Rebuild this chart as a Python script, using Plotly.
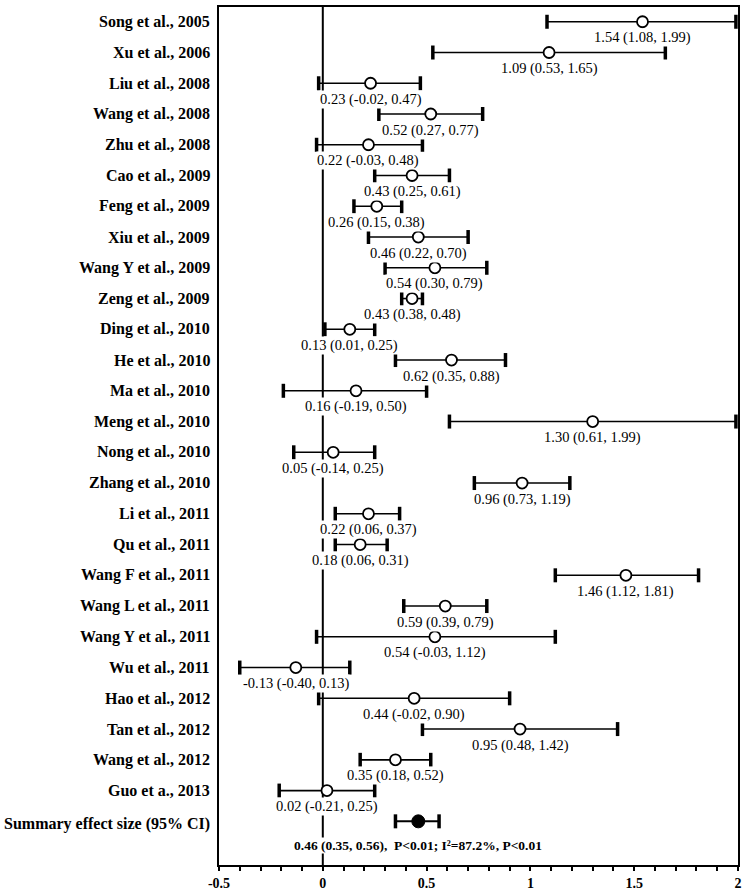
import plotly.graph_objects as go

# estudios, efecto y IC 95%
studies = ["Song et al., 2005", "Xu et al., 2006", "Liu et al., 2008", "Wang et al., 2008",
           "Zhu et al., 2008", "Cao et al., 2009", "Feng et al., 2009", "Xiu et al., 2009",
           "Wang Y et al., 2009", "Zeng et al., 2009", "Ding et al., 2010", "He et al., 2010",
           "Ma et al., 2010", "Meng et al., 2010", "Nong et al., 2010", "Zhang et al., 2010",
           "Li et al., 2011", "Qu et al., 2011", "Wang F et al., 2011", "Wang L et al., 2011",
           "Wang Y et al., 2011", "Wu et al., 2011", "Hao et al., 2012", "Tan et al., 2012",
           "Wang et al., 2012", "Guo et a., 2013"]
est = [1.54, 1.09, 0.23, 0.52, 0.22, 0.43, 0.26, 0.46, 0.54, 0.43, 0.13, 0.62, 0.16, 1.30,
       0.05, 0.96, 0.22, 0.18, 1.46, 0.59, 0.54, -0.13, 0.44, 0.95, 0.35, 0.02]
lo = [1.08, 0.53, -0.02, 0.27, -0.03, 0.25, 0.15, 0.22, 0.30, 0.38, 0.01, 0.35, -0.19, 0.61,
      -0.14, 0.73, 0.06, 0.06, 1.12, 0.39, -0.03, -0.40, -0.02, 0.48, 0.18, -0.21]
hi = [1.99, 1.65, 0.47, 0.77, 0.48, 0.61, 0.38, 0.70, 0.79, 0.48, 0.25, 0.88, 0.50, 1.99,
      0.25, 1.19, 0.37, 0.31, 1.81, 0.79, 1.12, 0.13, 0.90, 1.42, 0.52, 0.25]

summary_label = "Summary effect size (95% CI)"
summary_est, summary_lo, summary_hi = 0.46, 0.35, 0.56
summary_text = "0.46 (0.35, 0.56),  P<0.01; I²=87.2%, P<0.01"

tick_vals = [-0.5, 0, 0.5, 1, 1.5, 2]
tick_text = ["-0.5", "0", "0.5", "1", "1.5", "2"]

serif = "Liberation Serif, Times New Roman, serif"
rows = list(range(len(studies)))
srow = len(studies)

fig = go.Figure()

# lineas del IC
for i in rows:
    fig.add_trace(go.Scatter(x=[lo[i], hi[i]], y=[i, i], mode="lines",
                             line=dict(color="black", width=1.6), hoverinfo="skip"))
fig.add_trace(go.Scatter(x=[summary_lo, summary_hi], y=[srow, srow], mode="lines",
                         line=dict(color="black", width=2), hoverinfo="skip"))

# extremos
fig.add_trace(go.Scatter(x=lo + hi + [summary_lo, summary_hi],
                         y=rows + rows + [srow, srow], mode="markers",
                         marker=dict(symbol="line-ns", size=10,
                                     line=dict(color="black", width=3.5))))

# puntos
fig.add_trace(go.Scatter(x=est, y=rows, mode="markers",
                         marker=dict(symbol="circle", size=11, color="white",
                                     line=dict(color="black", width=1.8))))
fig.add_trace(go.Scatter(x=[summary_est], y=[srow], mode="markers",
                         marker=dict(symbol="circle", size=13, color="black",
                                     line=dict(color="black", width=1))))

# linea en cero
fig.add_shape(type="line", x0=0, x1=0, y0=0, y1=1, xref="x", yref="paper",
              line=dict(color="black", width=2), layer="below")

# etiquetas
for i in rows:
    fig.add_annotation(x=0, xref="paper", xanchor="right", xshift=-7, y=i, yref="y",
                       text="<b>%s</b>" % studies[i], showarrow=False,
                       font=dict(family=serif, size=16, color="black"))
    fig.add_annotation(x=est[i], y=i, yshift=-16, showarrow=False,
                       text="%.2f (%.2f, %.2f)" % (est[i], lo[i], hi[i]),
                       bgcolor="white", borderpad=0,
                       font=dict(family=serif, size=14.5, color="black"))
fig.add_annotation(x=0, xref="paper", xanchor="right", xshift=-7, y=srow, yref="y",
                   yshift=-3, text="<b>%s</b>" % summary_label, showarrow=False,
                   font=dict(family=serif, size=16, color="black"))
fig.add_annotation(x=summary_est, y=srow, yshift=-24, showarrow=False,
                   text="<b>%s</b>" % summary_text, bgcolor="white", borderpad=0,
                   font=dict(family=serif, size=13.5, color="black"))

fig.update_layout(
    width=747, height=896,
    margin=dict(l=219, r=8, t=5, b=27),
    paper_bgcolor="white", plot_bgcolor="white",
    showlegend=False,
    xaxis=dict(range=[-0.5, 2], tickvals=tick_vals, ticktext=tick_text,
               ticks="outside", ticklen=4, tickwidth=2, tickcolor="black",
               minor=dict(dtick=0.1, ticks="outside", ticklen=4, tickwidth=2, tickcolor="black"),
               showline=True, linecolor="black", linewidth=2, mirror=True,
               showgrid=False, zeroline=False,
               tickfont=dict(family=serif, size=14, color="black", weight="bold")),
    xaxis2=dict(range=[-0.5, 2], overlaying="x", anchor="y", side="bottom",
                tickvals=tick_vals, ticks="inside", ticklen=4, tickwidth=2, tickcolor="black",
                minor=dict(dtick=0.1, ticks="inside", ticklen=4, tickwidth=2, tickcolor="black"),
                showticklabels=False, showgrid=False, zeroline=False, showline=False),
    yaxis=dict(range=[27.42, -0.48], showticklabels=False, ticks="",
               showline=True, linecolor="black", linewidth=2, mirror=True,
               showgrid=False, zeroline=False),
)

fig.write_html("out.html", config={"displayModeBar": False},
               post_script="document.body.style.margin='0px';")
